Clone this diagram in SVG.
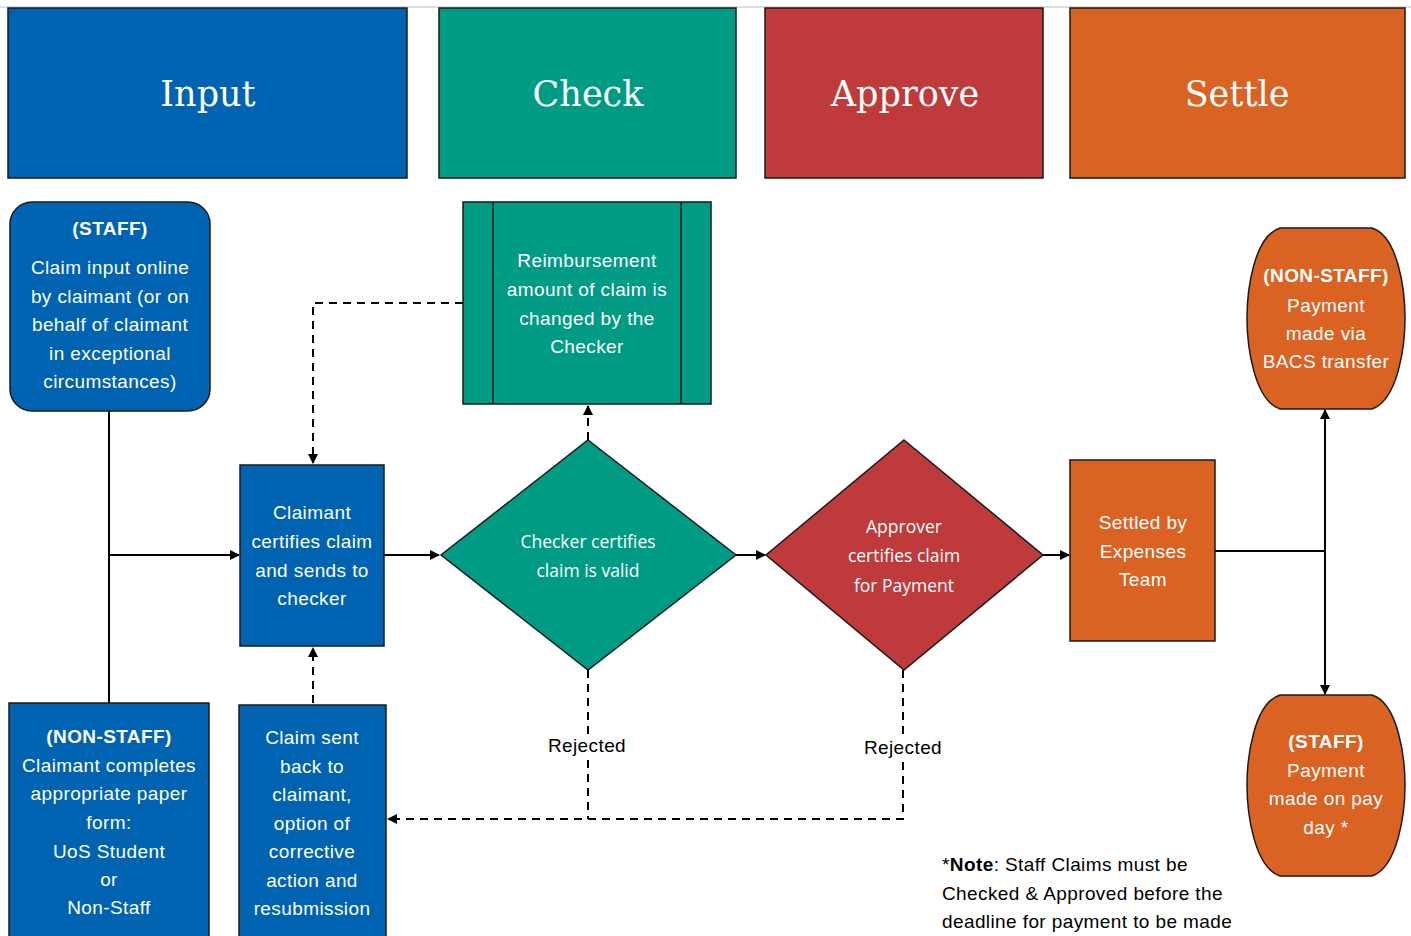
<svg xmlns="http://www.w3.org/2000/svg" width="1411" height="936" viewBox="0 0 1411 936">
<defs>
<marker id="ah" markerWidth="10" markerHeight="10" refX="9" refY="5" orient="auto" markerUnits="userSpaceOnUse">
<path d="M0,0 L10,5 L0,10 Z" fill="#000"/>
</marker>
<style>
.hdr{font-family:"DejaVu Serif","Liberation Serif",serif;font-size:35px;fill:#fff;text-anchor:middle}
.t{font-family:"Liberation Sans",Arial,sans-serif;font-size:19px;letter-spacing:0.4px;fill:#fff;text-anchor:middle}
.b{font-weight:bold}
.d{font-family:"Open Sans","Liberation Sans",sans-serif;font-size:17.5px;fill:#fff;text-anchor:middle}
.lbl{font-family:"Liberation Sans",Arial,sans-serif;font-size:19px;letter-spacing:0.4px;fill:#000;text-anchor:middle}
.note{font-family:"Liberation Sans",Arial,sans-serif;font-size:19px;letter-spacing:0.4px;fill:#000}
.box{stroke:#1a1a1a;stroke-width:1.5}
.blue{fill:#0063B1}.teal{fill:#009B84}.red{fill:#BF3A3B}.orange{fill:#DA6222}
.ln{stroke:#000;stroke-width:2;fill:none}
.dash{stroke:#000;stroke-width:2;fill:none;stroke-dasharray:8,6}
</style>
</defs>
<rect width="1411" height="936" fill="#fff"/>
<line x1="0" y1="7" x2="1411" y2="7" stroke="#bbb" stroke-width="1"/>

<g id="hdr-input"><rect class="box blue" x="8" y="8" width="399" height="170"/><text class="hdr" x="208" y="106">Input</text></g>
<g id="hdr-check"><rect class="box teal" x="439" y="8" width="297" height="170"/><text class="hdr" x="588" y="106">Check</text></g>
<g id="hdr-approve"><rect class="box red" x="765" y="8" width="278" height="170"/><text class="hdr" x="905" y="106">Approve</text></g>
<g id="hdr-settle"><rect class="box orange" x="1070" y="8" width="335" height="170"/><text class="hdr" x="1237" y="106">Settle</text></g>

<g id="connectors">
<polyline class="ln" points="109,411 109,703"/>
<line class="ln" x1="109" y1="555" x2="239" y2="555" marker-end="url(#ah)"/>
<line class="ln" x1="384" y1="555" x2="439" y2="555" marker-end="url(#ah)"/>
<line class="ln" x1="736" y1="555" x2="765" y2="555" marker-end="url(#ah)"/>
<line class="ln" x1="1043" y1="555" x2="1069" y2="555" marker-end="url(#ah)"/>
<polyline class="ln" points="1215,551 1325,551"/>
<line class="ln" x1="1325" y1="551" x2="1325" y2="410" marker-end="url(#ah)"/>
<line class="ln" x1="1325" y1="551" x2="1325" y2="694" marker-end="url(#ah)"/>
<polyline class="dash" points="463,303 313,303 313,463" marker-end="url(#ah)"/>
<line class="dash" x1="588" y1="440" x2="588" y2="406" marker-end="url(#ah)"/>
<line class="dash" x1="313" y1="703" x2="313" y2="648" marker-end="url(#ah)"/>
<polyline class="dash" points="588,670 588,734"/>
<polyline class="dash" points="588,760 588,819"/>
<polyline class="dash" points="903,670 903,736"/>
<polyline class="dash" points="903,762 903,819 388,819" marker-end="url(#ah)"/>
<text class="lbl" x="587" y="752">Rejected</text>
<text class="lbl" x="903" y="754">Rejected</text>
</g>

<g id="staff-input">
<rect class="box blue" x="10" y="202" width="200" height="209" rx="22"/>
<text class="t b" x="110" y="235">(STAFF)</text>
<text class="t" x="110" y="274">Claim input online</text>
<text class="t" x="110" y="303">by claimant (or on</text>
<text class="t" x="110" y="331">behalf of claimant</text>
<text class="t" x="110" y="360">in  exceptional</text>
<text class="t" x="110" y="388">circumstances)</text>
</g>

<g id="nonstaff-input">
<rect class="box blue" x="9" y="703" width="200" height="240"/>
<text class="t b" x="109" y="743">(NON-STAFF)</text>
<text class="t" x="109" y="772">Claimant completes</text>
<text class="t" x="109" y="800">appropriate paper</text>
<text class="t" x="109" y="829">form:</text>
<text class="t" x="109" y="858">UoS Student</text>
<text class="t" x="109" y="886">or</text>
<text class="t" x="109" y="914">Non-Staff</text>
</g>

<g id="claimant-certifies">
<rect class="box blue" x="240" y="465" width="144" height="181"/>
<text class="t" x="312" y="519">Claimant</text>
<text class="t" x="312" y="548">certifies claim</text>
<text class="t" x="312" y="577">and sends to</text>
<text class="t" x="312" y="605">checker</text>
</g>

<g id="claim-sent-back">
<rect class="box blue" x="239" y="705" width="147" height="240"/>
<text class="t" x="312" y="744">Claim sent</text>
<text class="t" x="312" y="773">back to</text>
<text class="t" x="312" y="801">claimant,</text>
<text class="t" x="312" y="830">option of</text>
<text class="t" x="312" y="858">corrective</text>
<text class="t" x="312" y="887">action and</text>
<text class="t" x="312" y="915">resubmission</text>
</g>

<g id="reimbursement">
<rect class="box teal" x="463" y="202" width="248" height="202"/>
<line class="box" x1="493" y1="202" x2="493" y2="404"/>
<line class="box" x1="681" y1="202" x2="681" y2="404"/>
<text class="t" x="587" y="267">Reimbursement</text>
<text class="t" x="587" y="296">amount of claim is</text>
<text class="t" x="587" y="325">changed by  the</text>
<text class="t" x="587" y="353">Checker</text>
</g>

<g id="checker-certifies">
<polygon class="box teal" points="588,440 736,555 588,670 441,555"/>
<text class="d" x="588" y="548">Checker certifies</text>
<text class="d" x="588" y="577">claim is valid</text>
</g>

<g id="approver-certifies">
<polygon class="box red" points="904,440 1043,555 904,670 766,555"/>
<text class="d" x="904" y="533">Approver</text>
<text class="d" x="904" y="562">certifies claim</text>
<text class="d" x="904" y="592">for  Payment</text>
</g>

<g id="settled">
<rect class="box orange" x="1070" y="460" width="145" height="181"/>
<text class="t" x="1143" y="529">Settled by</text>
<text class="t" x="1143" y="558">Expenses</text>
<text class="t" x="1143" y="586">Team</text>
</g>

<g id="nonstaff-payment">
<path class="box orange" d="M1280,228 L1372,228 C1398,236 1405,290 1405,318 C1405,346 1398,400 1372,409 L1280,409 C1254,400 1247,346 1247,318 C1247,290 1254,236 1280,228 Z"/>
<text class="t b" x="1326" y="282">(NON-STAFF)</text>
<text class="t" x="1326" y="312">Payment</text>
<text class="t" x="1326" y="340">made via</text>
<text class="t" x="1326" y="368">BACS transfer</text>
</g>

<g id="staff-payment">
<path class="box orange" d="M1280,695 L1372,695 C1398,703 1405,757 1405,785 C1405,813 1398,867 1372,876 L1280,876 C1254,867 1247,813 1247,785 C1247,757 1254,703 1280,695 Z"/>
<text class="t b" x="1326" y="748">(STAFF)</text>
<text class="t" x="1326" y="777">Payment</text>
<text class="t" x="1326" y="805">made on pay</text>
<text class="t" x="1326" y="834">day *</text>
</g>

<g id="note">
<text class="note" x="942" y="871">*<tspan font-weight="bold">Note</tspan>: Staff Claims must be</text>
<text class="note" x="942" y="900">Checked &amp; Approved before the</text>
<text class="note" x="942" y="928">deadline for payment to be made</text>
</g>
</svg>
